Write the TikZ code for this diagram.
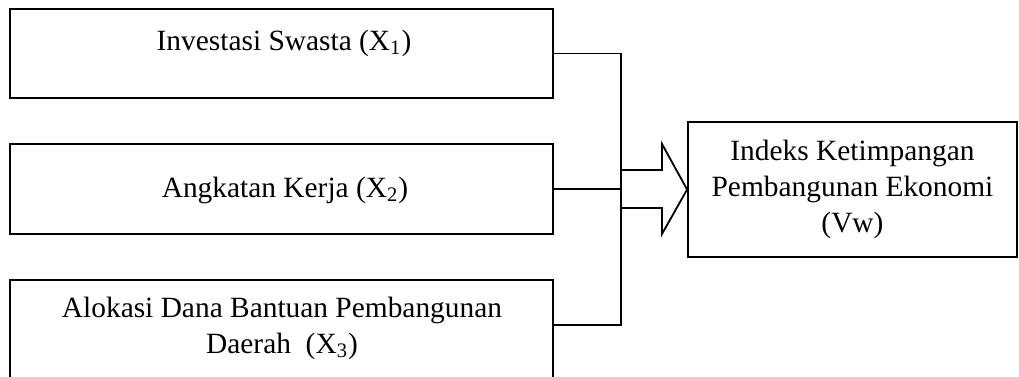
\documentclass[tikz,border=0pt]{standalone}
\usepackage{fontspec}
\setmainfont{Liberation Serif}
\begin{document}
\begin{tikzpicture}[x=0.5pt,y=-0.5pt,
  box/.style={draw,line width=0.9pt,rectangle,inner sep=0pt},
  lbl/.style={font=\fontsize{14.7}{18}\selectfont,inner sep=0pt,align=center},
  conn/.style={line width=0.9pt,line join=miter}]
\useasboundingbox (0,0) rectangle (1019,376);
% left boxes
\node[box,minimum width=271.5pt,minimum height=44.5pt] (b1) at (281.5,53.5) {};
\node[box,minimum width=271.5pt,minimum height=45pt] (b2) at (281.5,189) {};
\node[box,minimum width=271.5pt,minimum height=49pt] (b3) at (281.5,329) {};
\node[lbl,anchor=base] (t1) at (284,50) {Investasi Swasta (X\textsubscript{1})};
\node[lbl,anchor=base] (t2) at (285,197) {Angkatan Kerja (X\textsubscript{2})};
\node[lbl,anchor=base] (t3) at (282,353) {Alokasi Dana Bantuan Pembangunan\\Daerah~~(X\textsubscript{3})};
% right box
\node[box,minimum width=164.5pt,minimum height=67.5pt,lbl,draw] (rb) at (852.5,189.5) {Indeks Ketimpangan\\Pembangunan Ekonomi\\(Vw)};
% connectors
\coordinate (j3) at (621,325);
\draw[conn] (b1.east) -- (b1.east -| j3) -- (j3) -- (j3 -| b3.east);
\draw[conn] (b2.east) -- (b2.east -| j3);
% block arrow
\draw[conn] (j3 |- 0,170) -- (662,170) -- (662,144) -- (rb.west) -- (662,234) -- (662,208) -- (j3 |- 0,208);
\end{tikzpicture}
\end{document}
